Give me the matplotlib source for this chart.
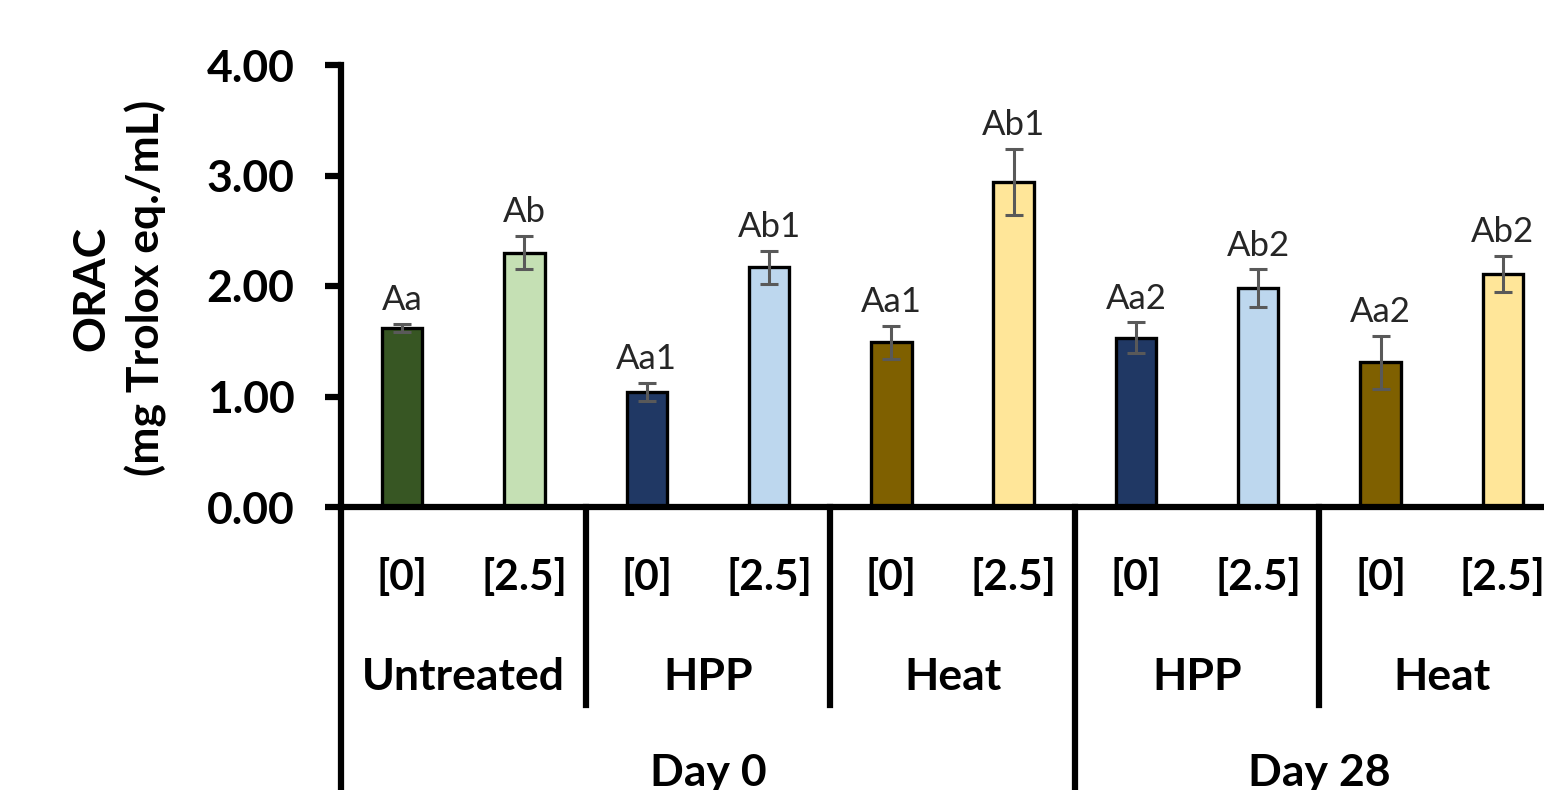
import matplotlib
matplotlib.use("Agg")
import matplotlib.pyplot as plt
from matplotlib.lines import Line2D
import numpy as np

# ---- data ----
conc_labels = ["[0]", "[2.5]", "[0]", "[2.5]", "[0]", "[2.5]", "[0]", "[2.5]", "[0]", "[2.5]"]
treatments = ["Untreated", "HPP", "Heat", "HPP", "Heat"]
days = ["Day 0", "Day 28"]
values = [1.62, 2.30, 1.04, 2.17, 1.49, 2.94, 1.53, 1.98, 1.31, 2.11]
errors = [0.04, 0.15, 0.08, 0.15, 0.15, 0.30, 0.14, 0.17, 0.24, 0.16]
letters = ["Aa", "Ab", "Aa1", "Ab1", "Aa1", "Ab1", "Aa2", "Ab2", "Aa2", "Ab2"]
colors = ["#375623", "#C5E0B4", "#203864", "#BDD7EE", "#7F6000",
          "#FFE699", "#203864", "#BDD7EE", "#7F6000", "#FFE699"]
yticks = [0, 1, 2, 3, 4]

plt.rcParams['font.family'] = ['Lato', 'DejaVu Sans']
FS = 32

fig = plt.figure(figsize=(15.44, 7.9), dpi=100)
ax = fig.add_axes([341/1544, (790-507)/790, 1223/1544, 442/790])

x = np.arange(len(values))
ax.bar(x, values, width=0.33, color=colors, edgecolor='black', linewidth=2.4, zorder=2)
ax.errorbar(x, values, yerr=errors, fmt='none', ecolor='#595959', elinewidth=2.2,
            capsize=6.5, capthick=2.2, zorder=3)

for xi, v, e, t in zip(x, values, errors, letters):
    ax.annotate(t, (xi, v + e), xytext=(0, 10), textcoords='offset points',
                ha='center', va='baseline', fontsize=25, color='#262626')

ax.set_xlim(-0.5, len(values) - 0.5)
ax.set_ylim(0, 4)
ax.set_yticks(yticks)
ax.set_yticklabels([f"{t:.2f}" for t in yticks], fontsize=FS, fontweight='bold')
ax.tick_params(axis='y', length=11.5, width=4.5, pad=22)
ax.set_xticks([])
for s in ['top', 'right']:
    ax.spines[s].set_visible(False)
for s in ['left', 'bottom']:
    ax.spines[s].set_linewidth(4.5)

trans = ax.get_xaxis_transform()
# concentration labels
for xi, lab in zip(x, conc_labels):
    ax.text(xi, -0.16, lab, transform=trans, ha='center', va='center',
            fontsize=30.5, fontweight='bold', clip_on=False)
# treatment labels
for i, lab in enumerate(treatments):
    ax.text(2 * i + 0.5, -0.385, lab, transform=trans, ha='center', va='center',
            fontsize=FS, fontweight='bold', clip_on=False)
# day labels (baseline just above the bottom edge)
day_y = (507 - 786) / 442
ax.text(2.5, day_y, days[0], transform=trans, ha='center', va='baseline',
        fontsize=FS, fontweight='bold', clip_on=False)
ax.text(7.5, day_y, days[1], transform=trans, ha='center', va='baseline',
        fontsize=FS, fontweight='bold', clip_on=False)

# separators
for xs in [1.5, 3.5, 7.5]:
    ax.add_line(Line2D([xs, xs], [0, -0.448], transform=trans, color='black',
                       linewidth=4.5, clip_on=False))
for xs in [-0.5, 5.5]:
    ax.add_line(Line2D([xs, xs], [0, -0.7], transform=trans, color='black',
                       linewidth=4.5, clip_on=False))

fig.text(119/1544, (790-288)/790, "ORAC\n(mg Trolox eq./mL)", rotation=90,
         ha='center', va='center', multialignment='center',
         fontsize=FS, fontweight='bold', linespacing=1.4)

fig.savefig("out.png", dpi=100)
